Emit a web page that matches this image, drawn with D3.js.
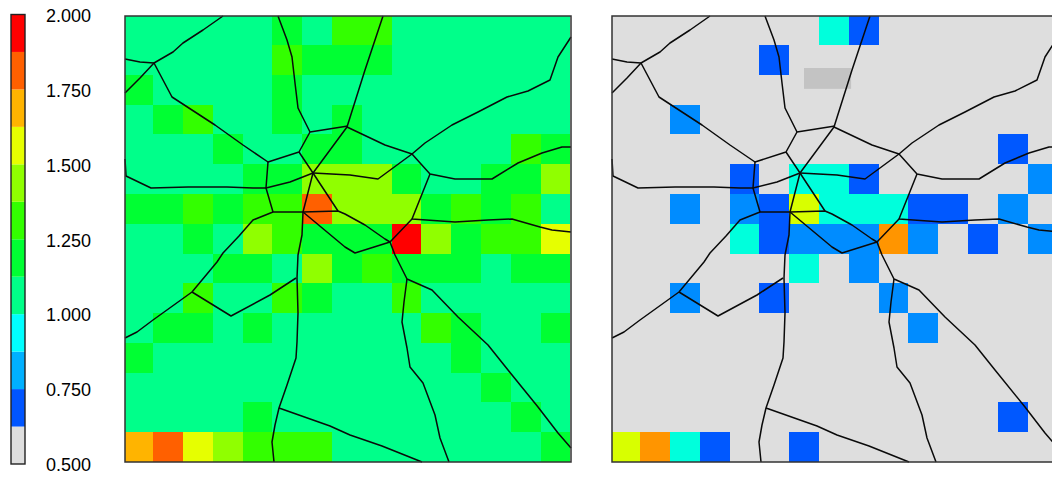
<!DOCTYPE html>
<html>
<head>
<meta charset="utf-8">
<script src="https://cdn.jsdelivr.net/npm/d3@7"></script>
<style>
    body { margin: 0; background: #fff; overflow: hidden; }
    svg { display: block; }
    text { font-family: "Liberation Sans", Arial, sans-serif; }
</style>
</head>
<body>
<div id="chart"></div>
<script>
// colour bins
const thresholds = [0.625, 0.75, 0.875, 1, 1.125, 1.25, 1.375, 1.5, 1.625, 1.75, 1.875];
const legendColors = ["#dedede", "#0055ff", "#00b0ff", "#00ffff", "#00ff88", "#00ff33",
    "#33ff00", "#90ff00", "#e6ff00", "#ffb400", "#ff6000", "#ff0000"];
const rightColors = ["#dedede", "#0058ff", "#008cff", "#00ffdc", "#00ff88", "#00ff33",
    "#33ff00", "#90ff00", "#d8ff00", "#ff9500", "#ff6000", "#ff0000"];
const leftColors = ["#dedede", "#0055ff", "#00b0ff", "#00ffff", "#00ff8a", "#00ff33",
    "#33ff00", "#90ff00", "#e6ff00", "#ffb400", "#ff6000", "#ff0000"];
const legendTicks = [0.5, 0.75, 1, 1.25, 1.5, 1.75, 2];

// 15 x 15 grids, top row first
const leftValues = [
    [1.06, 1.06, 1.06, 1.06, 1.06, 1.19, 1.06, 1.31, 1.31, 1.06, 1.06, 1.06, 1.06, 1.06, 1.06],
    [1.06, 1.06, 1.06, 1.06, 1.06, 1.31, 1.19, 1.19, 1.19, 1.06, 1.06, 1.06, 1.06, 1.06, 1.06],
    [1.19, 1.06, 1.06, 1.06, 1.06, 1.19, 1.06, 1.06, 1.06, 1.06, 1.06, 1.06, 1.06, 1.06, 1.06],
    [1.06, 1.19, 1.31, 1.06, 1.06, 1.19, 1.06, 1.19, 1.06, 1.06, 1.06, 1.06, 1.06, 1.06, 1.06],
    [1.06, 1.06, 1.06, 1.19, 1.06, 1.06, 1.19, 1.19, 1.06, 1.06, 1.06, 1.06, 1.06, 1.31, 1.19],
    [1.06, 1.06, 1.06, 1.06, 1.19, 1.19, 1.44, 1.44, 1.44, 1.19, 1.06, 1.06, 1.19, 1.19, 1.44],
    [1.19, 1.19, 1.31, 1.19, 1.31, 1.31, 1.81, 1.44, 1.44, 1.44, 1.19, 1.31, 1.19, 1.31, 1.06],
    [1.06, 1.06, 1.19, 1.06, 1.44, 1.31, 1.19, 1.19, 1.19, 1.94, 1.44, 1.19, 1.31, 1.31, 1.56],
    [1.06, 1.06, 1.06, 1.19, 1.19, 1.06, 1.44, 1.19, 1.31, 1.19, 1.19, 1.19, 1.06, 1.19, 1.19],
    [1.06, 1.06, 1.31, 1.06, 1.06, 1.31, 1.19, 1.06, 1.06, 1.31, 1.06, 1.06, 1.06, 1.06, 1.06],
    [1.06, 1.19, 1.19, 1.06, 1.19, 1.06, 1.06, 1.06, 1.06, 1.06, 1.31, 1.19, 1.06, 1.06, 1.19],
    [1.19, 1.06, 1.06, 1.06, 1.06, 1.06, 1.06, 1.06, 1.06, 1.06, 1.06, 1.19, 1.06, 1.06, 1.06],
    [1.06, 1.06, 1.06, 1.06, 1.06, 1.06, 1.06, 1.06, 1.06, 1.06, 1.06, 1.06, 1.19, 1.06, 1.06],
    [1.06, 1.06, 1.06, 1.06, 1.19, 1.06, 1.06, 1.06, 1.06, 1.06, 1.06, 1.06, 1.06, 1.19, 1.06],
    [1.69, 1.81, 1.56, 1.44, 1.31, 1.31, 1.31, 1.06, 1.06, 1.06, 1.06, 1.06, 1.06, 1.06, 1.19]
];
const rightValues = [
    [0.56, 0.56, 0.56, 0.56, 0.56, 0.56, 0.56, 0.94, 0.69, 0.56, 0.56, 0.56, 0.56, 0.56, 0.56],
    [0.56, 0.56, 0.56, 0.56, 0.56, 0.69, 0.56, 0.56, 0.56, 0.56, 0.56, 0.56, 0.56, 0.56, 0.56],
    [0.56, 0.56, 0.56, 0.56, 0.56, 0.56, 0.56, 0.56, 0.56, 0.56, 0.56, 0.56, 0.56, 0.56, 0.56],
    [0.56, 0.56, 0.81, 0.56, 0.56, 0.56, 0.56, 0.56, 0.56, 0.56, 0.56, 0.56, 0.56, 0.56, 0.56],
    [0.56, 0.56, 0.56, 0.56, 0.56, 0.56, 0.56, 0.56, 0.56, 0.56, 0.56, 0.56, 0.56, 0.69, 0.56],
    [0.56, 0.56, 0.56, 0.56, 0.69, 0.56, 0.94, 0.94, 0.69, 0.56, 0.56, 0.56, 0.56, 0.56, 0.81],
    [0.56, 0.56, 0.81, 0.56, 0.81, 0.69, 1.56, 0.94, 0.94, 0.94, 0.69, 0.69, 0.56, 0.81, 0.56],
    [0.56, 0.56, 0.56, 0.56, 0.94, 0.69, 0.81, 0.81, 0.81, 1.69, 0.81, 0.56, 0.69, 0.56, 0.81],
    [0.56, 0.56, 0.56, 0.56, 0.56, 0.56, 0.94, 0.56, 0.81, 0.56, 0.56, 0.56, 0.56, 0.56, 0.56],
    [0.56, 0.56, 0.81, 0.56, 0.56, 0.69, 0.56, 0.56, 0.56, 0.81, 0.56, 0.56, 0.56, 0.56, 0.56],
    [0.56, 0.56, 0.56, 0.56, 0.56, 0.56, 0.56, 0.56, 0.56, 0.56, 0.81, 0.56, 0.56, 0.56, 0.56],
    [0.56, 0.56, 0.56, 0.56, 0.56, 0.56, 0.56, 0.56, 0.56, 0.56, 0.56, 0.56, 0.56, 0.56, 0.56],
    [0.56, 0.56, 0.56, 0.56, 0.56, 0.56, 0.56, 0.56, 0.56, 0.56, 0.56, 0.56, 0.56, 0.56, 0.56],
    [0.56, 0.56, 0.56, 0.56, 0.56, 0.56, 0.56, 0.56, 0.56, 0.56, 0.56, 0.56, 0.56, 0.69, 0.56],
    [1.56, 1.69, 0.94, 0.69, 0.56, 0.56, 0.69, 0.56, 0.56, 0.56, 0.56, 0.56, 0.56, 0.56, 0.56]
];

// darker patch in the right map, in grid cells: [col from, col to, row from, row to]
const greyPatch = [6.5, 8.08, 1.77, 2.47];

// road network, same map units on both panels (0..446 across)
const roads = [
    [[98, 0], [78, 14], [58, 27], [48, 36], [29, 47], [15, 62], [0, 77]],
    [[0, 43], [15, 46], [29, 47], [47, 81], [90, 109], [118, 129], [143, 146], [174, 136], [185, 116], [223, 110]],
    [[185, 116], [173, 92], [170, 67], [167, 41], [162, 24], [153, 0]],
    [[174, 136], [188, 157], [213, 195]],
    [[143, 146], [141, 172], [148, 196], [178, 196], [213, 195], [220, 198], [240, 209], [260, 223], [265, 226]],
    [[258, 0], [240, 54], [222, 111], [188, 157], [178, 196], [177, 219], [173, 239], [172, 262], [173, 297], [172, 326], [171, 342], [162, 369], [154, 392], [150, 409], [147, 426], [149, 446]],
    [[222, 111], [260, 129], [287, 138], [305, 158], [330, 163], [367, 163], [393, 147], [417, 137], [437, 131], [446, 131]],
    [[188, 157], [225, 159], [253, 163], [287, 138], [300, 127], [327, 109], [353, 96], [382, 81], [403, 75], [425, 64], [433, 41], [446, 21]],
    [[305, 158], [287, 203], [330, 206], [363, 204], [387, 203], [415, 211], [427, 214], [446, 216]],
    [[287, 203], [265, 226], [270, 239], [282, 263], [307, 274], [333, 301], [363, 329], [383, 354], [413, 391], [433, 417], [446, 432]],
    [[282, 263], [279, 286], [277, 306], [282, 332], [285, 351], [298, 367], [310, 399], [315, 422], [324, 446]],
    [[0, 143], [1, 160], [26, 172], [63, 171], [102, 171], [128, 172], [141, 172], [165, 166], [188, 157]],
    [[148, 196], [128, 204], [114, 220], [98, 237], [92, 246], [67, 276], [28, 304], [12, 316], [0, 322]],
    [[67, 276], [106, 300], [145, 279], [171, 262]],
    [[178, 196], [220, 231], [230, 237], [265, 226]],
    [[154, 392], [205, 410], [225, 419], [257, 430], [297, 446]]
];

const width = 1052, height = 478, panelSize = 446;
const panelTop = 16;

const svg = d3.select("#chart").append("svg")
    .attr("width", width)
    .attr("height", height);

svg.append("clipPath").attr("id", "panel-clip")
    .append("rect")
    .attr("width", panelSize)
    .attr("height", panelSize);

// the cell grid sits slightly up and left of the map frame
const cellX = d3.scaleBand().domain(d3.range(15)).range([-1.7, 445.3]);
const cellY = d3.scaleBand().domain(d3.range(15)).range([-0.7, 446]);
const gridX = d3.scaleLinear().domain([0, 15]).range(cellX.range());
const gridY = d3.scaleLinear().domain([0, 15]).range(cellY.range());
const mapX = d3.scaleLinear().domain([0, 446]).range([0, panelSize]);
const mapY = d3.scaleLinear().domain([0, 446]).range([0, panelSize]);
const roadLine = d3.line().x(d => mapX(d[0])).y(d => mapY(d[1]));

function drawPanel(left, values, colors) {
    const color = d3.scaleThreshold().domain(thresholds).range(colors);
    const g = svg.append("g").attr("transform", `translate(${left},${panelTop})`);
    const cells = g.append("g").attr("clip-path", "url(#panel-clip)");

    values.forEach((row, r) => {
        cells.append("g")
            .selectAll("rect")
            .data(row)
            .join("rect")
            .attr("x", (d, c) => cellX(c))
            .attr("y", cellY(r))
            .attr("width", cellX.bandwidth())
            .attr("height", cellY.bandwidth())
            .attr("fill", d => color(d))
            .attr("shape-rendering", "crispEdges");
    });
    return g;
}

function drawRoads(g) {
    g.append("g")
        .selectAll("path")
        .data(roads)
        .join("path")
        .attr("d", roadLine)
        .attr("fill", "none")
        .attr("stroke", "#0a0a0a")
        .attr("stroke-width", 1.5)
        .attr("stroke-linejoin", "round");

    g.append("rect")
        .attr("width", panelSize)
        .attr("height", panelSize)
        .attr("fill", "none")
        .attr("stroke", "#333")
        .attr("stroke-width", 1.5);
}

const leftPanel = drawPanel(125, leftValues, leftColors);
drawRoads(leftPanel);

const rightPanel = drawPanel(612, rightValues, rightColors);
rightPanel.append("rect")
    .attr("x", gridX(greyPatch[0]))
    .attr("y", gridY(greyPatch[2]))
    .attr("width", gridX(greyPatch[1]) - gridX(greyPatch[0]))
    .attr("height", gridY(greyPatch[3]) - gridY(greyPatch[2]))
    .attr("fill", "#c3c3c3");
drawRoads(rightPanel);

// colour bar
const legendY = d3.scaleLinear().domain([0.5, 2]).range([464, 14.5]);
const barEdges = [0.5, ...thresholds, 2];
const legend = svg.append("g");

legend.selectAll("rect")
    .data(legendColors)
    .join("rect")
    .attr("x", 11)
    .attr("y", (d, i) => legendY(barEdges[i + 1]))
    .attr("width", 14)
    .attr("height", (d, i) => legendY(barEdges[i]) - legendY(barEdges[i + 1]))
    .attr("fill", d => d);

legend.append("rect")
    .attr("x", 11)
    .attr("y", legendY(2))
    .attr("width", 14)
    .attr("height", legendY(0.5) - legendY(2))
    .attr("fill", "none")
    .attr("stroke", "#222")
    .attr("stroke-width", 1.4);

svg.append("g")
    .attr("transform", "translate(46,1)")
    .call(d3.axisRight(legendY).tickValues(legendTicks).tickFormat(d3.format(".3f")).tickSize(0).tickPadding(0))
    .call(g => g.select(".domain").remove())
    .selectAll("text")
    .style("font-family", '"Liberation Sans", Arial, sans-serif')
    .style("font-size", "18px")
    .attr("fill", "#000");
</script>
</body>
</html>
